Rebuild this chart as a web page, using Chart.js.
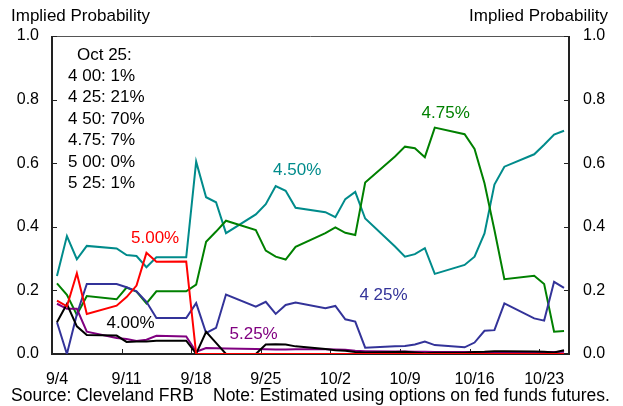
<!DOCTYPE html>
<html>
<head>
<meta charset="utf-8">
<script src="https://cdn.jsdelivr.net/npm/chart.js@4.4.1/dist/chart.umd.min.js"></script>
<style>
html,body{margin:0;padding:0;background:#fff;}
#wrap{width:623px;height:406px;}
</style>
</head>
<body>
<div id="wrap"><canvas id="probChart"></canvas></div>
<script>
// days after 9/4 that have a reading
const days=[0,1,2,3, 6,7,8,9,10, 13,14,15,16,17, 20,21,22,23,24, 27,28,29,30,31, 34,35,36,37,38, 41,42,43,44,45, 48,49,50,51];
const xTickLabels=['9/4','9/11','9/18','9/25','10/2','10/9','10/16','10/23'];
const yTicks=[0,0.2,0.4,0.6,0.8,1.0];

const p400=[0.100,0.157,0.087,0.060, 0.058,0.038,0.039,0.039,0.042, 0.042,0.001,0.070,0.035,0.000, 0.000,0.030,0.031,0.030,0.024, 0.016,0.012,0.010,0.006,0.005, 0.006,0.007,0.005,0.002,0.004, 0.004,0.006,0.007,0.009,0.009, 0.008,0.007,0.005,0.012];
const p425=[0.100,0.000,0.125,0.220, 0.220,0.210,0.197,0.164,0.113, 0.113,0.160,0.066,0.082,0.187, 0.149,0.164,0.126,0.154,0.162, 0.144,0.151,0.109,0.102,0.020, 0.024,0.025,0.030,0.039,0.028, 0.021,0.036,0.073,0.075,0.159, 0.112,0.105,0.227,0.208];
const p450=[0.245,0.371,0.298,0.340, 0.332,0.311,0.308,0.273,0.304, 0.304,0.605,0.493,0.477,0.380, 0.439,0.471,0.528,0.513,0.460, 0.446,0.430,0.487,0.510,0.426, 0.338,0.306,0.314,0.333,0.252, 0.280,0.306,0.379,0.533,0.589, 0.628,0.658,0.690,0.702];
const p475=[0.222,0.186,0.123,0.182, 0.172,0.209,0.196,0.159,0.197, 0.197,0.218,0.353,0.385,0.419, 0.390,0.325,0.306,0.297,0.337, 0.380,0.398,0.381,0.374,0.539, 0.621,0.652,0.647,0.619,0.712, 0.691,0.645,0.537,0.390,0.235, 0.246,0.220,0.070,0.072];
const p500=[0.168,0.150,0.254,0.126, 0.152,0.179,0.215,0.318,0.290, 0.291,0,0,0,0, 0,0,0,0,0, 0,0,0,0,0, 0,0,0,0,0, 0,0,0,0,0, 0,0,0,0];
const p525=[0.158,0.142,0.142,0.070, 0.050,0.047,0.041,0.045,0.057, 0.055,0.007,0.019,0.018,0.017, 0.016,0.015,0.014,0.014,0.015, 0.015,0.014,0.013,0.010,0.009, 0.008,0.008,0.007,0.007,0.006, 0.006,0.006,0.006,0.006,0.006, 0.006,0.006,0.006,0.007];

const boxTitle='Oct 25:';
const boxLines=['4 00: 1%','4 25: 21%','4 50: 70%','4.75: 7%','5 00: 0%','5 25: 1%'];

const FONT='"Liberation Sans", Arial, sans-serif';
const C={p400:'#000000',p425:'#333399',p450:'#008B8B',p475:'#008000',p500:'#FF0000',p525:'#800080'};

// series labels: text, day, value at text baseline
const seriesLabels=[
 {t:'5.00%',d:10.37,v:0.349,c:C.p500},
 {t:'4.00%',d:7.9,v:0.083,c:C.p400},
 {t:'5.25%',d:20.28,v:0.047,c:C.p525},
 {t:'4.50%',d:24.66,v:0.563,c:C.p450},
 {t:'4.75%',d:39.6,v:0.741,c:C.p475},
 {t:'4 25%',d:33.34,v:0.17,c:C.p425}
];

function pts(vals){return days.map((d,i)=>({x:d+0.5,y:vals[i]}));}
function ds(vals,col){return {data:pts(vals),borderColor:col,borderWidth:2,pointRadius:0,tension:0,fill:false,yAxisID:'y'};}

const frame={
 id:'frame',
 beforeDatasetsDraw(chart){
  const {ctx,chartArea:a,scales}=chart;
  const ln=(x1,y1,x2,y2)=>{ctx.beginPath();ctx.moveTo(x1,y1);ctx.lineTo(x2,y2);ctx.stroke();};
  ctx.save();
  ctx.strokeStyle='#555';ctx.lineWidth=1;
  ln(a.left,a.top+0.5,a.right,a.top+0.5);
  ctx.strokeStyle='#222';ctx.lineWidth=1;
  yTicks.forEach(v=>{
   const y=Math.round(scales.y.getPixelForValue(v))+0.5;
   ln(a.left,y,a.left+5,y);ln(a.right-5,y,a.right,y);
  });
  scales.x.ticks.forEach(t=>{
   const x=Math.round(scales.x.getPixelForValue(t.value))+0.5;
   ln(x,a.bottom-5,x,a.bottom);
  });
  ctx.lineWidth=2;
  ln(a.left,a.top,a.left,a.bottom+1);
  ln(a.right,a.top,a.right,a.bottom+1);
  ln(a.left,a.bottom,a.right,a.bottom);
  ctx.restore();
 },
 afterDraw(chart){
  const {ctx,chartArea:a,scales}=chart;
  ctx.save();
  ctx.font='17px '+FONT;ctx.fillStyle='#000';ctx.textBaseline='alphabetic';
  ctx.textAlign='left';ctx.fillText('Implied Probability',11,20.5);
  ctx.textAlign='right';ctx.fillText('Implied Probability',608,20.5);
  ctx.textAlign='left';
  ctx.fillText(boxTitle,a.left+25,59.5);
  boxLines.forEach((s,i)=>ctx.fillText(s,a.left+16,80.9+i*21.4));
  ctx.textAlign='center';
  seriesLabels.forEach(l=>{
   ctx.fillStyle=l.c;
   ctx.fillText(l.t,scales.x.getPixelForValue(l.d),scales.y.getPixelForValue(l.v));
  });
  // footer
  ctx.fillStyle='#000';ctx.textAlign='left';ctx.font='17.5px '+FONT;
  ctx.fillText('Source: Cleveland FRB',11,401);
  ctx.fillText('Note: Estimated using options on fed funds futures.',213,401);
  ctx.restore();
 }
};

const yCommon={
 min:0,max:1,
 grid:{display:false,drawTicks:false},border:{display:false},
 afterBuildTicks:s=>{s.ticks=yTicks.map(v=>({value:v}));},
 ticks:{color:'#000',font:{family:FONT,size:16},callback:v=>v.toFixed(1)}
};

new Chart(document.getElementById('probChart'),{
 type:'line',
 data:{datasets:[ds(p500,C.p500),ds(p400,C.p400),ds(p525,C.p525),ds(p425,C.p425),ds(p475,C.p475),ds(p450,C.p450)]},
 options:{
  responsive:true,maintainAspectRatio:false,animation:false,
  layout:{padding:{top:36,left:0,right:0,bottom:0}},
  plugins:{legend:{display:false},tooltip:{enabled:false}},
  scales:{
   x:{type:'linear',min:0,max:52,
    grid:{display:false,drawTicks:false},border:{display:false},
    afterBuildTicks:s=>{s.ticks=xTickLabels.map((_,i)=>({value:i*7}));},
    afterFit:s=>{s.height=52;},
    ticks:{color:'#000',font:{family:FONT,size:16},padding:16,labelOffset:5,maxRotation:0,autoSkip:false,callback:v=>xTickLabels[v/7]}
   },
   y:Object.assign({},yCommon,{position:'left',afterFit:s=>{s.width=52;},ticks:Object.assign({},yCommon.ticks,{padding:13})}),
   y2:Object.assign({},yCommon,{position:'right',afterFit:s=>{s.width=54;},ticks:Object.assign({},yCommon.ticks,{padding:14})})
  }
 },
 plugins:[frame]
});
</script>
</body>
</html>
